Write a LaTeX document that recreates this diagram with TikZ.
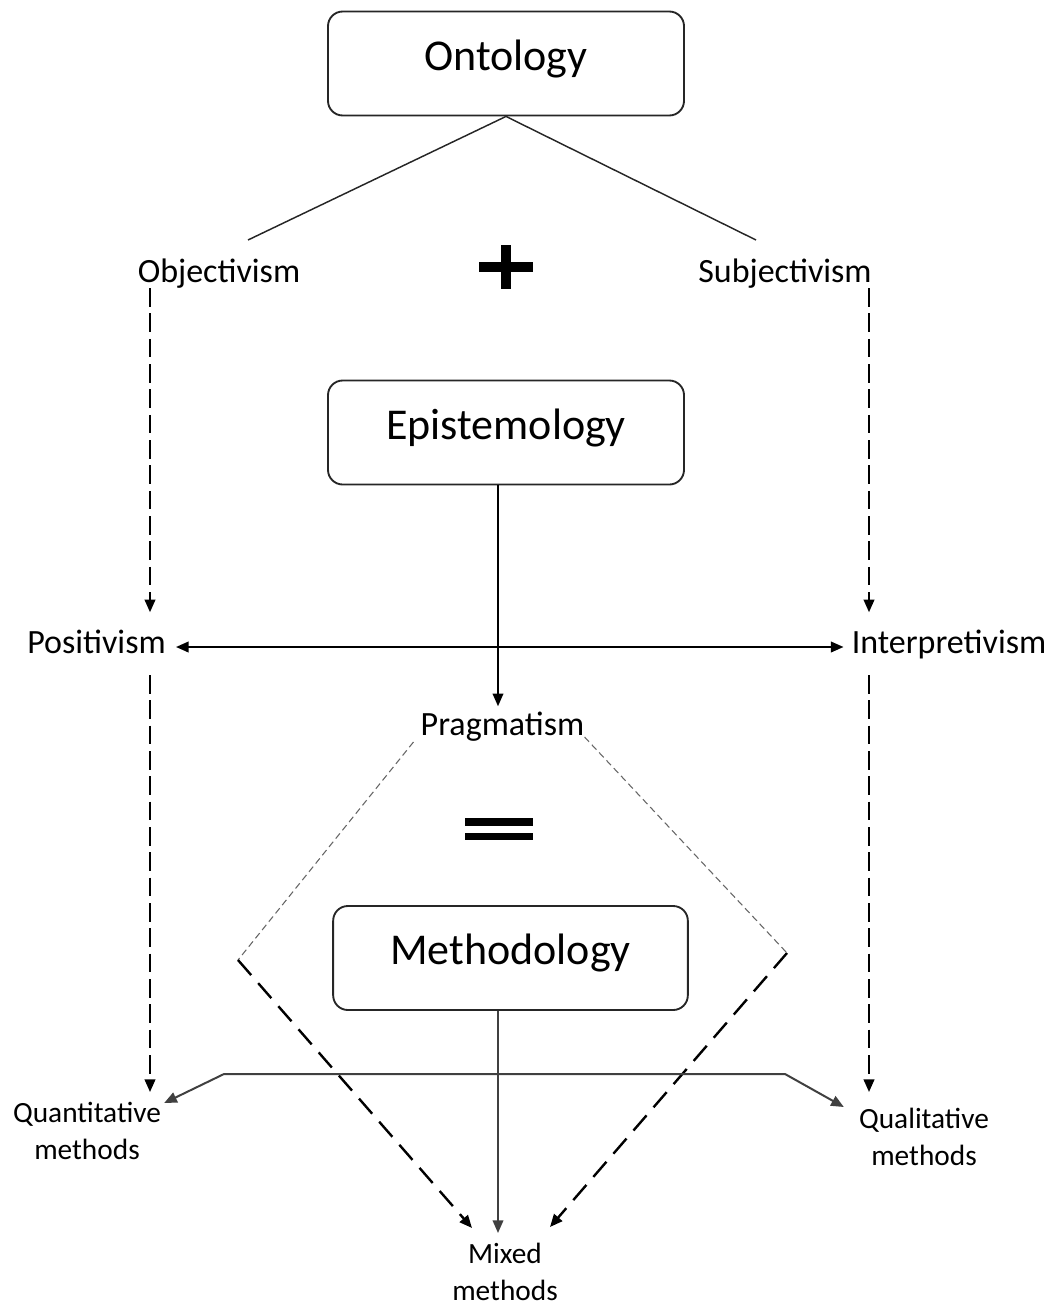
\documentclass[tikz,border=0pt]{standalone}
\usepackage{fontspec}
\setmainfont{Carlito}
\usetikzlibrary{arrows.meta,calc}
\begin{document}
\begin{tikzpicture}[x=0.75pt,y=-0.75pt,
  stage/.style={draw=black!85, line width=1.4pt, rounded corners=11pt,
    minimum width=267pt, minimum height=78pt, inner sep=0pt,
    text height=22pt, text depth=12pt, font=\fontsize{33}{40}\selectfont},
  label/.style={inner sep=0pt, anchor=base, font=\fontsize{25.5}{30}\selectfont},
  outcome/.style={inner sep=0pt, anchor=north, align=center, font=\fontsize{22}{27.5}\selectfont},
  tip/.style={-{Triangle[length=9.5pt,width=8pt]}},
  bothtips/.style={{Triangle[length=9.5pt,width=8pt]}-{Triangle[length=9.5pt,width=8pt]}},
  link/.style={line width=1.1pt, draw=black!85},
  solidarrow/.style={tip, line width=1.2pt},
  dasharrow/.style={tip, line width=1.5pt, dash pattern=on 14pt off 5pt},
  diag/.style={tip, line width=1.8pt, dash pattern=on 15pt off 8pt},
  facet/.style={line width=0.8pt, draw=black!60, dash pattern=on 5pt off 3pt},
  bus/.style={line width=1.5pt, draw=black!75}]

\useasboundingbox (0,0) rectangle (1053,1303);

% the three stages
\node[stage] (ont) at (506,63.5) {Ontology};
\node[stage] (epi) at (506,432.5) {Epistemology};
\node[stage, minimum width=266pt] (meth) at (510.5,958) {Methodology};

% positions and paradigms
\node[label] (obj) at (219,282) {Objectivism};
\node[label] (subj) at (785,282) {Subjectivism};
\node[label] (pos) at (96.5,653) {Positivism};
\node[label] (interp) at (949,653) {Interpretivism};
\node[label] (prag) at (502.5,735) {Pragmatism};

% methods
\node[outcome] (quant) at (87,1102) {Quantitative\\methods};
\node[outcome] (qual) at (924,1108) {Qualitative\\methods};
\node[outcome] (mixed) at (505,1243) {Mixed\\methods};

% plus and equals signs
\coordinate (plus) at (506,267);
\fill ($(plus)+(-27,-5)$) rectangle ($(plus)+(27,5)$);
\fill ($(plus)+(-5,-22)$) rectangle ($(plus)+(5,22)$);
\coordinate (eq) at (499,829);
\fill ($(eq)+(-34,-11)$) rectangle ($(eq)+(34,-3)$);
\fill ($(eq)+(-34,4)$) rectangle ($(eq)+(34,11)$);

% helper columns and bend points
\coordinate (colL) at (150,0);
\coordinate (colR) at (869,0);
\coordinate (colM) at (498,0);
\coordinate (objtop) at (248,240);
\coordinate (subtop) at (756,240);
\coordinate (dl) at (238,960);
\coordinate (dr) at (787,953);
\coordinate (busL) at (224,1074);
\coordinate (busR) at (785,1074);

% ontology branches
\draw[link] (objtop) -- (ont.south) -- (subtop);

% vertical dashed chains
\draw[dasharrow] (obj.south -| colL) -- ($(pos.north -| colL)+(0,-17)$);
\draw[dasharrow] (subj.south -| colR) -- ($(interp.north -| colR)+(0,-17)$);
\draw[dasharrow] ($(pos.base -| colL)+(0,22)$) -- ($(quant.north -| colL)+(0,-10)$);
\draw[dasharrow] ($(interp.base -| colR)+(0,22)$) -- ($(qual.north -| colR)+(0,-16)$);

% positivism <-> interpretivism
\draw[bothtips, line width=1.4pt] ($(pos.base east)+(10,-6)$) -- ($(interp.base west)+(-8,-6)$);

% epistemology to pragmatism
\draw[solidarrow] (epi.south -| colM) -- ($(prag.north -| colM)+(0,-5)$);

% pragmatism diamond
\draw[facet] ($(prag.base west)+(-7,7)$) -- (dl);
\draw[facet] ($(prag.base east)+(0,2)$) -- (dr);
\draw[diag] (dl) -- ($(mixed.north)+(-33,-15)$);
\draw[diag] (dr) -- ($(mixed.north)+(45,-16)$);

% methodology to mixed methods
\draw[solidarrow, draw=black!75] (meth.south -| colM) -- ($(mixed.north -| colM)+(0,-10)$);

% methodology bus to quantitative and qualitative
\draw[bus, bothtips] ($(quant.north east)+(3,1)$) -- (busL) -- (busR) -- ($(qual.north west)+(-15,-1)$);
\end{tikzpicture}
\end{document}
